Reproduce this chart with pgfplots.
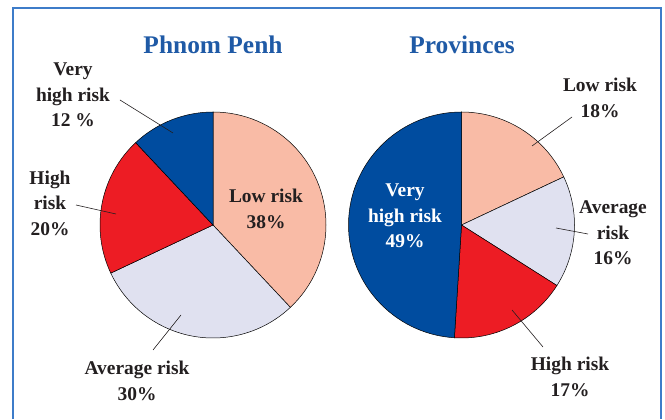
\documentclass[border=0pt]{standalone}
\usepackage{fontspec}
\setmainfont{Liberation Serif}
\usepackage{pgfplots}
\pgfplotsset{compat=1.18}
\definecolor{lowc}{HTML}{F9BBA6}
\definecolor{avgc}{HTML}{E0E1F0}
\definecolor{highc}{HTML}{ED1C24}
\definecolor{vhc}{HTML}{004C9F}
\definecolor{titlec}{HTML}{1F5AA6}
\definecolor{framec}{HTML}{3D7CC9}
\definecolor{txt}{HTML}{231F20}
\begin{document}
\begin{tikzpicture}
\begin{axis}[scale only axis, width=665bp, height=419bp,
  xmin=0, xmax=665, ymin=0, ymax=419, hide axis, clip=false]
\path (axis cs:0,0) rectangle (axis cs:665,419);
% frame
\draw[framec, line width=1.2bp] (axis cs:13,0) -- (axis cs:13,411) -- (axis cs:661,411) -- (axis cs:661,0);
% ---- Phnom Penh: Low 38, Average 30, High 20, Very high 12 (clockwise from top)
\def\r{113bp}
\filldraw[fill=lowc, draw=black, line width=0.5bp] (axis cs:213,194) -- ++(90:\r) arc[start angle=90, end angle={90-3.6*38}, radius=\r] -- cycle;
\filldraw[fill=avgc, draw=black, line width=0.5bp] (axis cs:213,194) -- ++({90-3.6*38}:\r) arc[start angle={90-3.6*38}, end angle={90-3.6*68}, radius=\r] -- cycle;
\filldraw[fill=highc, draw=black, line width=0.5bp] (axis cs:213,194) -- ++({90-3.6*68}:\r) arc[start angle={90-3.6*68}, end angle={90-3.6*88}, radius=\r] -- cycle;
\filldraw[fill=vhc, draw=black, line width=0.5bp] (axis cs:213,194) -- ++({90-3.6*88}:\r) arc[start angle={90-3.6*88}, end angle={90-3.6*100}, radius=\r] -- cycle;
% ---- Provinces: Low 18, Average 16, High 17, Very high 49
\filldraw[fill=lowc, draw=black, line width=0.5bp] (axis cs:461.5,194) -- ++(90:\r) arc[start angle=90, end angle={90-3.6*18}, radius=\r] -- cycle;
\filldraw[fill=avgc, draw=black, line width=0.5bp] (axis cs:461.5,194) -- ++({90-3.6*18}:\r) arc[start angle={90-3.6*18}, end angle={90-3.6*34}, radius=\r] -- cycle;
\filldraw[fill=highc, draw=black, line width=0.5bp] (axis cs:461.5,194) -- ++({90-3.6*34}:\r) arc[start angle={90-3.6*34}, end angle={90-3.6*51}, radius=\r] -- cycle;
\filldraw[fill=vhc, draw=black, line width=0.5bp] (axis cs:461.5,194) -- ++({90-3.6*51}:\r) arc[start angle={90-3.6*51}, end angle={90-3.6*100}, radius=\r] -- cycle;
% titles
\node[titlec, font=\fontsize{25.5}{28}\selectfont\bfseries] at (axis cs:213,374) {Phnom Penh};
\node[titlec, font=\fontsize{25.5}{28}\selectfont\bfseries] at (axis cs:462,374) {Provinces};
% labels left
\tikzset{lab/.style={txt, align=center, font=\fontsize{19.5}{25.5}\selectfont\bfseries, inner sep=0pt}}
\node[lab] at (axis cs:73,324) {Very\\high risk\\12 \%};
\draw[txt, line width=0.6bp] (axis cs:120,319) -- (axis cs:173,286);
\node[lab] at (axis cs:50,216) {High\\risk\\20\%};
\draw[txt, line width=0.6bp] (axis cs:76,214) -- (axis cs:116,205);
\node[lab] at (axis cs:266,210) {Low risk\\38\%};
\node[lab] at (axis cs:137,38) {Average risk\\30\%};
\draw[txt, line width=0.6bp] (axis cs:153,69) -- (axis cs:181,104);
% labels right
\node[lab] at (axis cs:600,321) {Low risk\\18\%};
\draw[txt, line width=0.6bp] (axis cs:572,302) -- (axis cs:532,273);
\node[lab, white] at (axis cs:405,203) {Very\\high risk\\49\%};
\node[lab] at (axis cs:613,186) {Average\\risk\\16\%};
\draw[txt, line width=0.6bp] (axis cs:588,185) -- (axis cs:556,191);
\node[lab] at (axis cs:570,42) {High risk\\17\%};
\draw[txt, line width=0.6bp] (axis cs:543,72) -- (axis cs:512,109);
\end{axis}
\end{tikzpicture}
\end{document}
